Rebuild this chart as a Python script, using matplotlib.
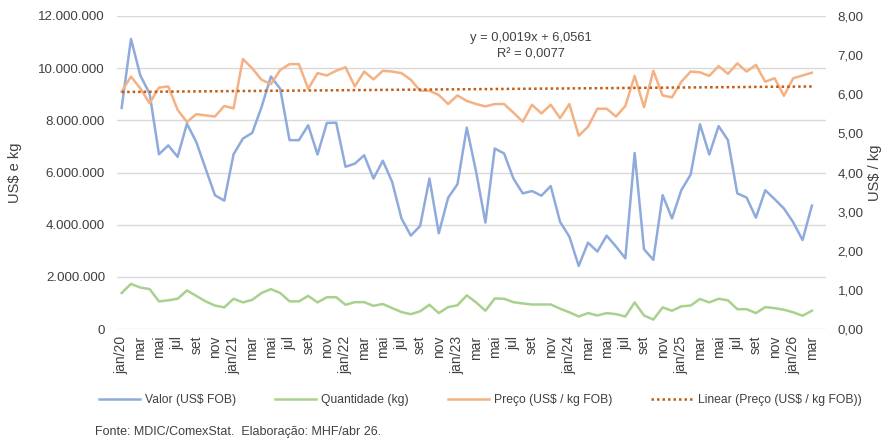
import matplotlib
matplotlib.use("Agg")
import matplotlib.pyplot as plt
from matplotlib.ticker import FuncFormatter
import numpy as np

plt.rcParams['font.family'] = ['Liberation Sans', 'DejaVu Sans']

months = ["jan", "fev", "mar", "abr", "mai", "jun", "jul", "ago", "set", "out", "nov", "dez"]
years = [20, 21, 22, 23, 24, 25, 26]
categories = []
for y in years:
    for m in months:
        categories.append(f"{m}/{y}")
categories = categories[:75]  # jan/20 .. mar/26

valor_mi = [8.48, 11.12, 9.72, 9.02, 6.70, 7.04, 6.60, 7.87, 7.17, 6.15, 5.13, 4.92,
            6.70, 7.30, 7.52, 8.51, 9.68, 9.21, 7.24, 7.24, 7.81, 6.69, 7.90, 7.91,
            6.22, 6.34, 6.66, 5.77, 6.45, 5.64, 4.24, 3.58, 3.95, 5.77, 3.67, 5.03,
            5.55, 7.72, 6.03, 4.08, 6.92, 6.73, 5.77, 5.20, 5.29, 5.11, 5.48, 4.11,
            3.54, 2.42, 3.31, 2.97, 3.58, 3.16, 2.71, 6.75, 3.06, 2.65, 5.13, 4.24,
            5.32, 5.92, 7.85, 6.69, 7.78, 7.24, 5.20, 5.04, 4.27, 5.32, 4.98, 4.62,
            4.09, 3.41, 4.73]
quantidade_mi = [1.38, 1.73, 1.59, 1.53, 1.06, 1.10, 1.16, 1.48, 1.27, 1.06, 0.90, 0.83,
                 1.16, 1.02, 1.12, 1.38, 1.53, 1.38, 1.06, 1.06, 1.27, 1.02, 1.22, 1.22,
                 0.93, 1.03, 1.03, 0.89, 0.96, 0.80, 0.65, 0.57, 0.68, 0.93, 0.61, 0.84,
                 0.91, 1.29, 1.02, 0.70, 1.17, 1.16, 1.03, 0.98, 0.94, 0.94, 0.94, 0.78,
                 0.64, 0.48, 0.61, 0.52, 0.61, 0.57, 0.48, 1.02, 0.52, 0.36, 0.83, 0.70,
                 0.87, 0.90, 1.15, 1.02, 1.16, 1.10, 0.76, 0.76, 0.61, 0.84, 0.80, 0.74,
                 0.64, 0.51, 0.70]
preco = [6.07, 6.45, 6.15, 5.77, 6.17, 6.20, 5.60, 5.29, 5.49, 5.46, 5.43, 5.70,
         5.64, 6.90, 6.66, 6.37, 6.26, 6.62, 6.77, 6.77, 6.14, 6.54, 6.48, 6.60,
         6.69, 6.20, 6.58, 6.38, 6.60, 6.58, 6.54, 6.37, 6.09, 6.09, 5.98, 5.75,
         5.97, 5.83, 5.75, 5.69, 5.75, 5.75, 5.53, 5.30, 5.73, 5.51, 5.73, 5.39,
         5.75, 4.94, 5.17, 5.63, 5.63, 5.43, 5.70, 6.47, 5.67, 6.60, 5.97, 5.92,
         6.32, 6.58, 6.56, 6.47, 6.72, 6.52, 6.79, 6.58, 6.75, 6.32, 6.41, 5.96,
         6.41, 6.48, 6.55]
trend_slope = 0.0019
trend_intercept = 6.0561

valor = np.array(valor_mi) * 1e6
quantidade = np.array(quantidade_mi) * 1e6
x = np.arange(len(categories))
trend = trend_intercept + trend_slope * (x + 1)

def tick_label(c):
    m, y = c.split("/")
    return c if m == "jan" else m

c_valor = "#8FAADC"
c_qtd = "#A9D18E"
c_preco = "#F4B183"
c_trend = "#C55A11"
grid_c = "#D9D9D9"
txt_c = "#404040"

fig = plt.figure(figsize=(8.89, 4.43), dpi=100)
ax = fig.add_axes([0.1316, 0.2573, 0.7974, 0.7066])
ax2 = ax.twinx()

lw = 1.8
l1, = ax.plot(x, valor, color=c_valor, lw=lw, label="Valor (US$ FOB)", solid_joinstyle="round")
l2, = ax.plot(x, quantidade, color=c_qtd, lw=lw, label="Quantidade (kg)", solid_joinstyle="round")
l3, = ax2.plot(x, preco, color=c_preco, lw=lw, label="Preço (US$ / kg FOB)", solid_joinstyle="round")
l4, = ax2.plot(x, trend, color=c_trend, lw=lw, ls=(0, (1, 1.2)), label="Linear (Preço (US$ / kg FOB))")

ax.set_ylim(0, 12e6)
ax2.set_ylim(0, 8)
ax.set_xlim(-0.5, 75.5)
ax.set_yticks(np.arange(0, 12e6 + 1, 2e6))
ax2.set_yticks(np.arange(0, 8.01, 1))
ax.yaxis.set_major_formatter(FuncFormatter(lambda v, p: f"{int(v):,}".replace(",", ".")))
ax2.yaxis.set_major_formatter(FuncFormatter(lambda v, p: f"{v:.2f}".replace(".", ",")))
ax.grid(axis="y", color=grid_c, lw=1)
ax.set_axisbelow(True)

ax.set_xticks(x[::2])
ax.set_xticklabels([tick_label(c) for c in categories[::2]], rotation=90, fontsize=10, color=txt_c)
for a in (ax, ax2):
    for s in a.spines.values():
        s.set_visible(False)
    a.tick_params(length=0, labelsize=9.6, labelcolor=txt_c)
ax.tick_params(axis="x", labelsize=10, pad=5)
ax.tick_params(axis="y", pad=8.6)
ax2.tick_params(axis="y", pad=8.6)

ax.set_ylabel("US$ e kg", fontsize=10.5, color=txt_c, labelpad=12)
ax2.set_ylabel("US$ / kg", fontsize=10.5, color=txt_c, labelpad=3)

ax2.text(0.584, 0.903, "y = 0,0019x + 6,0561\nR² = 0,0077", transform=ax.transAxes,
         ha="center", va="center", fontsize=9.3, color=txt_c, linespacing=1.45)

fig.legend(handles=[l1, l2, l3, l4], loc="center", bbox_to_anchor=(0.54, 0.097), ncol=4,
           frameon=False, fontsize=8.7, handlelength=3.4, columnspacing=3.2, handletextpad=0.45,
           labelcolor=txt_c)

fig.text(0.107, 0.018, "Fonte: MDIC/ComexStat.  Elaboração: MHF/abr 26.", fontsize=9, color=txt_c)

fig.savefig("out.png", dpi=100)
